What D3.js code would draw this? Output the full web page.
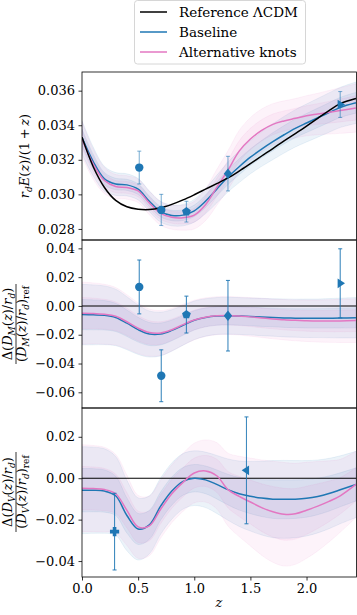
<!DOCTYPE html>
<html>
<head>
<meta charset="utf-8">
<script src="https://cdn.jsdelivr.net/npm/d3@7"></script>
<style>
  body { margin: 0; background: #fff; }
  svg { display: block; }
  .tick text { font-family: "DejaVu Serif", serif; font-size: 13px; fill: #000; }
  .lab { font-family: "DejaVu Serif", serif; fill: #000; }
</style>
</head>
<body>
<div id="chart"></div>
<script>
// redshift grid for the reconstructed curves
var zGrid = [0, 0.1, 0.2, 0.3, 0.4, 0.5, 0.6, 0.7, 0.8, 0.9, 1.0, 1.1, 1.2, 1.3, 1.4, 1.5, 1.6, 1.7, 1.8, 1.9, 2.0, 2.1, 2.2, 2.3, 2.44];

// panel 1: r_d E(z)/(1+z)
var hRef = [0.03330, 0.03160, 0.03040, 0.02965, 0.02928, 0.02914, 0.02912, 0.02922, 0.02942, 0.02968, 0.02998, 0.03030, 0.03062, 0.03095, 0.03135, 0.03178, 0.03222, 0.03265, 0.03310, 0.03352, 0.03395, 0.03440, 0.03485, 0.03525, 0.03555];
var hBase = [0.03330, 0.03190, 0.03090, 0.03060, 0.03055, 0.03030, 0.02960, 0.02900, 0.02878, 0.02880, 0.02905, 0.02960, 0.03030, 0.03100, 0.03160, 0.03215, 0.03262, 0.03305, 0.03345, 0.03382, 0.03413, 0.03443, 0.03473, 0.03503, 0.03530];
var hAlt = [0.03320, 0.03175, 0.03080, 0.03045, 0.03040, 0.03020, 0.02950, 0.02890, 0.02868, 0.02865, 0.02880, 0.02940, 0.03040, 0.03140, 0.03250, 0.03320, 0.03370, 0.03405, 0.03425, 0.03440, 0.03455, 0.03465, 0.03475, 0.03485, 0.03500];
var hBaseSig = [0.00048, 0.00042, 0.00036, 0.00033, 0.00032, 0.00031, 0.0003, 0.0003, 0.0003, 0.00031, 0.00033, 0.00036, 0.0004, 0.00043, 0.00046, 0.00048, 0.0005, 0.00052, 0.00053, 0.00054, 0.00055, 0.00056, 0.00057, 0.00058, 0.0006];
var hAltSig = [0.0005, 0.00044, 0.00038, 0.00035, 0.00034, 0.00034, 0.00034, 0.00034, 0.00035, 0.00036, 0.0004, 0.00046, 0.00052, 0.00056, 0.0006, 0.00062, 0.00062, 0.0006, 0.00058, 0.00057, 0.00058, 0.0006, 0.00063, 0.00066, 0.0007];

// panel 2: Delta(D_M/r_d)
var mBase = [-0.0060, -0.0062, -0.0065, -0.0080, -0.0120, -0.0165, -0.0195, -0.0195, -0.0170, -0.0135, -0.0100, -0.0080, -0.0070, -0.0068, -0.0070, -0.0073, -0.0077, -0.0080, -0.0083, -0.0085, -0.0086, -0.0086, -0.0085, -0.0084, -0.0082];
var mAlt = [-0.0050, -0.0052, -0.0058, -0.0072, -0.0110, -0.0155, -0.0185, -0.0188, -0.0165, -0.0130, -0.0098, -0.0078, -0.0068, -0.0066, -0.0070, -0.0076, -0.0083, -0.0090, -0.0096, -0.0100, -0.0103, -0.0105, -0.0105, -0.0104, -0.0102];
var mBaseSig = [0.0105, 0.0104, 0.0102, 0.0098, 0.0092, 0.0086, 0.008, 0.0076, 0.0072, 0.0069, 0.0067, 0.0065, 0.0064, 0.0064, 0.0064, 0.0064, 0.0065, 0.0065, 0.0066, 0.0066, 0.0067, 0.0067, 0.0068, 0.0069, 0.007];
var mAltSig = [0.0108, 0.0106, 0.0104, 0.01, 0.0094, 0.0088, 0.0082, 0.0078, 0.0074, 0.0071, 0.0069, 0.0067, 0.0066, 0.0066, 0.0066, 0.0067, 0.0068, 0.0069, 0.007, 0.0071, 0.0072, 0.0073, 0.0074, 0.0075, 0.0076];

// panel 3: Delta(D_V/r_d)
var vBase = [-0.0058, -0.0058, -0.0062, -0.0085, -0.0180, -0.0245, -0.0225, -0.0135, -0.0062, -0.0015, 0.0000, -0.0008, -0.0030, -0.0055, -0.0075, -0.0087, -0.0096, -0.0101, -0.0102, -0.0101, -0.0097, -0.0088, -0.0074, -0.0056, -0.0030];
var vAlt = [-0.0048, -0.0050, -0.0055, -0.0075, -0.0155, -0.0235, -0.0230, -0.0150, -0.0075, -0.0020, 0.0025, 0.0035, 0.0012, -0.0055, -0.0088, -0.0115, -0.0142, -0.0162, -0.0174, -0.0172, -0.0155, -0.0135, -0.0112, -0.0085, -0.0030];
var vBaseSig = [0.0105, 0.0104, 0.0102, 0.0095, 0.0085, 0.0075, 0.007, 0.0068, 0.0068, 0.0067, 0.0066, 0.0067, 0.007, 0.0074, 0.0079, 0.0084, 0.0089, 0.0093, 0.0094, 0.0093, 0.0091, 0.0088, 0.0085, 0.0082, 0.008];
var vAltSig = [0.0105, 0.0104, 0.0102, 0.0095, 0.0085, 0.0076, 0.0072, 0.007, 0.007, 0.007, 0.0072, 0.0075, 0.008, 0.0088, 0.0097, 0.0106, 0.0115, 0.0122, 0.0125, 0.0122, 0.0116, 0.0108, 0.0098, 0.0088, 0.008];

// data points
var hPtZ = [0.51, 0.706, 0.93, 1.30, 2.30];
var hPtVal = [0.03155, 0.0291, 0.0290, 0.0312, 0.0352];
var hPtErr = [0.00095, 0.0009, 0.0006, 0.001, 0.00075];
var hPtShape = ["circle", "circle", "pentagon", "diamond", "right"];

var mPtZ = [0.51, 0.706, 0.93, 1.30, 2.30];
var mPtVal = [0.0132, -0.0485, -0.006, -0.0068, 0.0157];
var mPtErr = [0.0187, 0.018, 0.0128, 0.0245, 0.024];
var mPtShape = ["circle", "circle", "pentagon", "diamond", "right"];

var vPtZ = [0.29, 1.465];
var vPtVal = [-0.0258, 0.0038];
var vPtErr = [0.0185, 0.0258];
var vPtShape = ["plus", "left"];

var legendLabels = ["Reference \u039bCDM", "Baseline", "Alternative knots"];
var colors = ["#000000", "#1f77b4", "#e377c2"];

var W = 357, H = 615;
var left = 82, right = 356.5;

var svg = d3.select("#chart").append("svg")
    .attr("width", W)
    .attr("height", H);

var x = d3.scaleLinear().domain([0, 2.445]).range([left, right]);

var panels = [
    {top: 72, bottom: 240, dom: [0.02736, 0.03708], ticks: [0.028, 0.030, 0.032, 0.034, 0.036], fmt: ".3f",
     base: hBase, alt: hAlt, baseSig: hBaseSig, altSig: hAltSig, ref: hRef,
     pz: hPtZ, pv: hPtVal, pe: hPtErr, ps: hPtShape, errOp: 0.55},
    {top: 240, bottom: 408, dom: [-0.0709, 0.0458], ticks: [-0.06, -0.04, -0.02, 0.0, 0.02, 0.04], fmt: ".2f",
     base: mBase, alt: mAlt, baseSig: mBaseSig, altSig: mAltSig, ref: null,
     pz: mPtZ, pv: mPtVal, pe: mPtErr, ps: mPtShape, errOp: 0.85},
    {top: 408, bottom: 577, dom: [-0.0477, 0.0339], ticks: [-0.04, -0.02, 0.0, 0.02], fmt: ".2f",
     base: vBase, alt: vAlt, baseSig: vBaseSig, altSig: vAltSig, ref: null,
     pz: vPtZ, pv: vPtVal, pe: vPtErr, ps: vPtShape, errOp: 0.85}
];

function pentagon(r) {
    var pts = [];
    for (var i = 0; i < 5; i++) {
        var a = -Math.PI / 2 + i * 2 * Math.PI / 5;
        pts.push([r * Math.cos(a), r * Math.sin(a)]);
    }
    return "M" + pts.map(p => p.join(",")).join("L") + "Z";
}

function markerPath(shape) {
    if (shape == "circle") return d3.symbol(d3.symbolCircle, 55)();
    if (shape == "pentagon") return pentagon(4.6);
    if (shape == "diamond") return "M0,-5.2L4.2,0L0,5.2L-4.2,0Z";
    if (shape == "plus") return "M-1.8,-4.6H1.8V-1.8H4.6V1.8H1.8V4.6H-1.8V1.8H-4.6V-1.8H-1.8Z";
    if (shape == "right") return "M4.8,0L-2.6,-4.8L-2.6,4.8Z";
    if (shape == "left") return "M-4.8,0L2.6,-4.8L2.6,4.8Z";
}

panels.forEach((p, pi) => {
    var y = d3.scaleLinear().domain(p.dom).range([p.bottom, p.top]);
    var clipId = "clip" + pi;
    svg.append("clipPath").attr("id", clipId)
        .append("rect")
        .attr("x", left).attr("y", p.top)
        .attr("width", right - left).attr("height", p.bottom - p.top);
    var g = svg.append("g").attr("clip-path", "url(#" + clipId + ")");

    var rows = zGrid.map((z, i) => ({z: z, b: p.base[i], a: p.alt[i], bs: p.baseSig[i], as: p.altSig[i]}));

    // confidence bands: 2 sigma then 1 sigma
    [[2, "b", "bs", colors[1]], [2, "a", "as", colors[2]], [1, "b", "bs", colors[1]], [1, "a", "as", colors[2]]]
        .forEach(([k, c, s, col]) => {
            var area = d3.area()
                .x(d => x(d.z))
                .y0(d => y(d[c] - k * d[s]))
                .y1(d => y(d[c] + k * d[s]))
                .curve(d3.curveCatmullRom);
            g.append("path")
                .datum(rows)
                .attr("d", area)
                .attr("fill", col)
                .attr("fill-opacity", 0.085)
                .attr("stroke", col)
                .attr("stroke-opacity", 0.1)
                .attr("stroke-width", 0.8);
        });

    if (!p.ref) {
        g.append("line")
            .attr("x1", left).attr("x2", right)
            .attr("y1", y(0)).attr("y2", y(0))
            .attr("stroke", "#000").attr("stroke-width", 1.1);
    }

    var line = key => d3.line()
        .x(d => x(d.z))
        .y(d => y(d[key]))
        .curve(d3.curveCatmullRom);

    g.append("path").datum(rows).attr("d", line("b"))
        .attr("fill", "none").attr("stroke", colors[1]).attr("stroke-width", 1.5);
    g.append("path").datum(rows).attr("d", line("a"))
        .attr("fill", "none").attr("stroke", colors[2]).attr("stroke-width", 1.5);

    if (p.ref) {
        var refRows = zGrid.map((z, i) => ({z: z, r: p.ref[i]}));
        g.append("path").datum(refRows).attr("d", line("r"))
            .attr("fill", "none").attr("stroke", "#000").attr("stroke-width", 1.5);
    }

    // measurements with error bars
    var pts = p.pz.map((z, i) => ({z: z, v: p.pv[i], e: p.pe[i], s: p.ps[i]}));
    var pg = svg.append("g");
    pts.forEach(d => {
        var eg = pg.append("g").attr("stroke", colors[1]).attr("stroke-opacity", p.errOp).attr("stroke-width", 1.1);
        eg.append("line").attr("x1", x(d.z)).attr("x2", x(d.z))
            .attr("y1", y(d.v - d.e)).attr("y2", y(d.v + d.e));
        [d.v - d.e, d.v + d.e].forEach(v => {
            eg.append("line").attr("x1", x(d.z) - 2).attr("x2", x(d.z) + 2)
                .attr("y1", y(v)).attr("y2", y(v));
        });
        pg.append("path")
            .attr("d", markerPath(d.s))
            .attr("transform", "translate(" + x(d.z) + "," + y(d.v) + ")")
            .attr("fill", colors[1]);
    });

    // y axis
    var ya = svg.append("g")
        .attr("transform", "translate(" + left + ",0)")
        .call(d3.axisLeft(y).tickValues(p.ticks).tickFormat(d3.format(p.fmt)).tickSize(3.5).tickPadding(3.5));
    ya.select(".domain").remove();
    ya.selectAll(".tick line").attr("stroke", "#000").attr("stroke-width", 0.8);

    if (pi == 2) {
        var xa = svg.append("g")
            .attr("transform", "translate(0," + p.bottom + ")")
            .call(d3.axisBottom(x).tickValues([0, 0.5, 1.0, 1.5, 2.0]).tickFormat(d3.format(".1f")).tickSize(3.5).tickPadding(3.5));
        xa.select(".domain").remove();
        xa.selectAll(".tick line").attr("stroke", "#000").attr("stroke-width", 0.8);
    }

    // frame
    svg.append("rect")
        .attr("x", left).attr("y", p.top)
        .attr("width", right - left).attr("height", p.bottom - p.top)
        .attr("fill", "none").attr("stroke", "#000").attr("stroke-width", 0.8);
});

// axis labels with sub/superscript tspans
function mathText(parent, parts, ty) {
    var t = parent.append("text")
        .attr("class", "lab")
        .attr("text-anchor", "middle")
        .attr("y", ty)
        .attr("font-size", 13);
    parts.forEach(p => {
        var ts = t.append("tspan").text(p.t);
        if (p.i) ts.attr("font-style", "italic");
        if (p.sub) ts.attr("font-size", 9).attr("dy", 3);
        if (p.up) ts.attr("dy", -3);
    });
    return t;
}

var topLab = svg.append("g").attr("transform", "translate(29,156) rotate(-90)");
mathText(topLab, [
    {t: "r", i: 1}, {t: "d", i: 1, sub: 1}, {t: "E", i: 1, up: 1}, {t: "("}, {t: "z", i: 1}, {t: ")/(1\u2009+\u2009"}, {t: "z", i: 1}, {t: ")"}
], 0);

[["M", 324], ["V", 492]].forEach(([sub, cy]) => {
    var lg = svg.append("g").attr("transform", "translate(16," + cy + ") rotate(-90)");
    mathText(lg, [
        {t: "\u0394("}, {t: "D", i: 1}, {t: sub, i: 1, sub: 1}, {t: "(", up: 1}, {t: "z", i: 1}, {t: ")/"}, {t: "r", i: 1}, {t: "d", i: 1, sub: 1}, {t: ")", up: 1}
    ], -4);
    mathText(lg, [
        {t: "("}, {t: "D", i: 1}, {t: sub, i: 1, sub: 1}, {t: "(", up: 1}, {t: "z", i: 1}, {t: ")/"}, {t: "r", i: 1}, {t: "d", i: 1, sub: 1}, {t: ")", up: 1}, {t: "ref", sub: 1}
    ], 10);
    lg.append("line").attr("x1", -40).attr("x2", 40).attr("y1", 0).attr("y2", 0)
        .attr("stroke", "#000").attr("stroke-width", 0.8);
});

svg.append("text")
    .attr("class", "lab")
    .attr("x", 219).attr("y", 607)
    .attr("text-anchor", "middle")
    .attr("font-size", 13)
    .attr("font-style", "italic")
    .text("z");

// legend
var leg = svg.append("g");
leg.append("rect")
    .attr("x", 134.5).attr("y", 0.5).attr("width", 171).attr("height", 63.5)
    .attr("rx", 3)
    .attr("fill", "#fff").attr("fill-opacity", 0.8)
    .attr("stroke", "#cccccc").attr("stroke-width", 0.8);
legendLabels.forEach((lab, i) => {
    var yy = 12 + i * 20;
    leg.append("line")
        .attr("x1", 140).attr("x2", 167).attr("y1", yy).attr("y2", yy)
        .attr("stroke", colors[i]).attr("stroke-width", 1.5);
    leg.append("text")
        .attr("class", "lab")
        .attr("x", 179).attr("y", yy + 4.5)
        .attr("font-size", 13.5)
        .text(lab);
});
</script>
</body>
</html>
